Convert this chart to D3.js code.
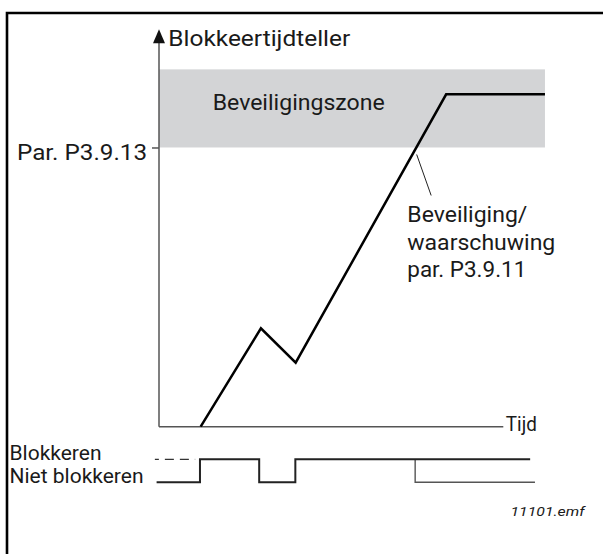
<!DOCTYPE html>
<html>
<head>
<meta charset="utf-8">
<script src="https://cdn.jsdelivr.net/npm/d3@7"></script>
<style>
  html, body { margin: 0; padding: 0; background: #fff; }
  svg { display: block; }
  text { font-family: Roboto, "Noto Sans", sans-serif; fill: #1a1a1a; }
</style>
</head>
<body>
<svg id="chart" width="603" height="554"></svg>
<script>
// Stall time counter over time
const counterTime  = [12.1, 29.6, 39.7, 83.4, 112.1];
const counterValue = [0, 29.6, 19.25, 100, 100];

// Protection zone above the stall limit (par. P3.9.13)
const stallLimit = 84;
const zoneTop = 107.5;
const zoneEnd = 112.1;
const axisTop = 119.6;
const axisEnd = 100;

// Stall state signal (main trace), trip branch and initial dashed level
const stateLevels = ["Blokkeren", "Niet blokkeren"];
const stateTime  = [-0.7, 11.9, 11.9, 29.1, 29.1, 39.6, 39.6, 107.8];
const stateValue = ["Niet blokkeren", "Niet blokkeren", "Blokkeren", "Blokkeren",
                    "Niet blokkeren", "Niet blokkeren", "Blokkeren", "Blokkeren"];
const tripTime = 74.4;
const tripBranchTime  = [74.4, 74.4, 109.2];
const tripBranchValue = ["Blokkeren", "Niet blokkeren", "Niet blokkeren"];
const dashedTime  = [-1.2, 10.5];
const dashedValue = ["Blokkeren", "Blokkeren"];

const tickLabels = ["Par. P3.9.13"];
const yAxisTitle = "Blokkeertijdteller";
const xAxisTitle = "Tijd";
const zoneLabel = "Beveiligingszone";
const tripLabel = ["Beveiliging/", "waarschuwing", "par. P3.9.11"];
const fileLabel = "11101.emf";

const svg = d3.select("#chart");

const x = d3.scaleLinear().domain([0, 100]).range([159, 503.3]);
const y = d3.scaleLinear().domain([0, 100]).range([426.7, 94.3]);
const s = d3.scalePoint().domain(stateLevels).range([459.3, 482.3]);

// frame
svg.append("path")
  .attr("d", "M7,556 L7,13 L606,13")
  .attr("fill", "none").attr("stroke", "#000").attr("stroke-width", 2.6);

// protection zone
svg.append("rect")
  .attr("x", x(0)).attr("y", y(zoneTop))
  .attr("width", x(zoneEnd) - x(0))
  .attr("height", y(stallLimit) - y(zoneTop))
  .attr("fill", "#d3d4d6");

svg.append("text")
  .attr("x", 212.7).attr("y", 110)
  .attr("font-size", 22)
  .attr("textLength", 172).attr("lengthAdjust", "spacingAndGlyphs")
  .text(zoneLabel);

// axes
svg.append("line")
  .attr("x1", x(0)).attr("x2", x(0))
  .attr("y1", y(0)).attr("y2", y(axisTop) + 10)
  .attr("stroke", "#555").attr("stroke-width", 1.5);
svg.append("path")
  .attr("d", `M${x(0)},${y(axisTop)} L${x(0) + 6},${y(axisTop) + 14} L${x(0) - 6},${y(axisTop) + 14} Z`)
  .attr("fill", "#111");
svg.append("line")
  .attr("x1", x(0)).attr("x2", x(axisEnd))
  .attr("y1", y(0)).attr("y2", y(0))
  .attr("stroke", "#555").attr("stroke-width", 1.5);

const yAxis = d3.axisLeft(y)
  .tickValues([stallLimit])
  .tickFormat((d, i) => tickLabels[i])
  .tickSize(7).tickPadding(5);
const gy = svg.append("g").attr("transform", `translate(${x(0)},0)`).call(yAxis);
gy.select(".domain").remove();
gy.selectAll(".tick line").attr("stroke", "#555").attr("stroke-width", 1.5);
gy.selectAll(".tick text")
  .attr("font-family", "Roboto, sans-serif")
  .attr("font-size", 22).attr("fill", "#1a1a1a")
  .attr("dy", null).attr("y", 12.5)
  .attr("textLength", 130).attr("lengthAdjust", "spacingAndGlyphs");

svg.append("text")
  .attr("x", 168.3).attr("y", 46)
  .attr("font-size", 22)
  .attr("textLength", 182).attr("lengthAdjust", "spacingAndGlyphs")
  .text(yAxisTitle);

svg.append("text")
  .attr("x", x(axisEnd) + 2.5).attr("y", 431)
  .attr("font-size", 21)
  .attr("textLength", 31).attr("lengthAdjust", "spacingAndGlyphs")
  .text(xAxisTitle);

// counter curve
const curve = d3.line().x(d => x(d[0])).y(d => y(d[1]));
svg.append("path")
  .datum(counterTime.map((t, i) => [t, counterValue[i]]))
  .attr("d", curve)
  .attr("fill", "none").attr("stroke", "#000")
  .attr("stroke-width", 2.5).attr("stroke-linejoin", "miter");

// trip annotation
const tx = x(tripTime), ty = y(stallLimit);
svg.append("line")
  .attr("x1", tx + 1.5).attr("y1", ty + 7)
  .attr("x2", tx + 16).attr("y2", ty + 48)
  .attr("stroke", "#222").attr("stroke-width", 1);
const tripWidths = [120, 148, 119];
svg.append("g").selectAll("text").data(tripLabel).join("text")
  .attr("x", 407.3).attr("y", (d, i) => 222 + i * 27.5)
  .attr("font-size", 22)
  .attr("textLength", (d, i) => tripWidths[i]).attr("lengthAdjust", "spacingAndGlyphs")
  .text(d => d);

// state signal
const sig = d3.line().x(d => x(d[0])).y(d => s(d[1]));
svg.append("path")
  .datum(dashedTime.map((t, i) => [t, dashedValue[i]]))
  .attr("d", sig).attr("fill", "none")
  .attr("stroke", "#333").attr("stroke-width", 1.3)
  .attr("stroke-dasharray", "9,6").attr("stroke-dashoffset", 5);
svg.append("path")
  .datum(tripBranchTime.map((t, i) => [t, tripBranchValue[i]]))
  .attr("d", sig).attr("fill", "none")
  .attr("stroke", "#555").attr("stroke-width", 1.4);
svg.append("path")
  .datum(stateTime.map((t, i) => [t, stateValue[i]]))
  .attr("d", sig).attr("fill", "none")
  .attr("stroke", "#222").attr("stroke-width", 2);

const stateWidths = [92, 134];
svg.append("g").selectAll("text").data(stateLevels).join("text")
  .attr("x", 9.5).attr("y", d => s(d) + 1)
  .attr("font-size", 19.5)
  .attr("textLength", (d, i) => stateWidths[i]).attr("lengthAdjust", "spacingAndGlyphs")
  .text(d => d);

svg.append("text")
  .attr("x", 510.5).attr("y", 515.7)
  .attr("font-family", "DejaVu Sans, sans-serif")
  .attr("font-style", "italic").attr("font-size", 12)
  .attr("textLength", 74).attr("lengthAdjust", "spacingAndGlyphs")
  .text(fileLabel);
</script>
</body>
</html>
